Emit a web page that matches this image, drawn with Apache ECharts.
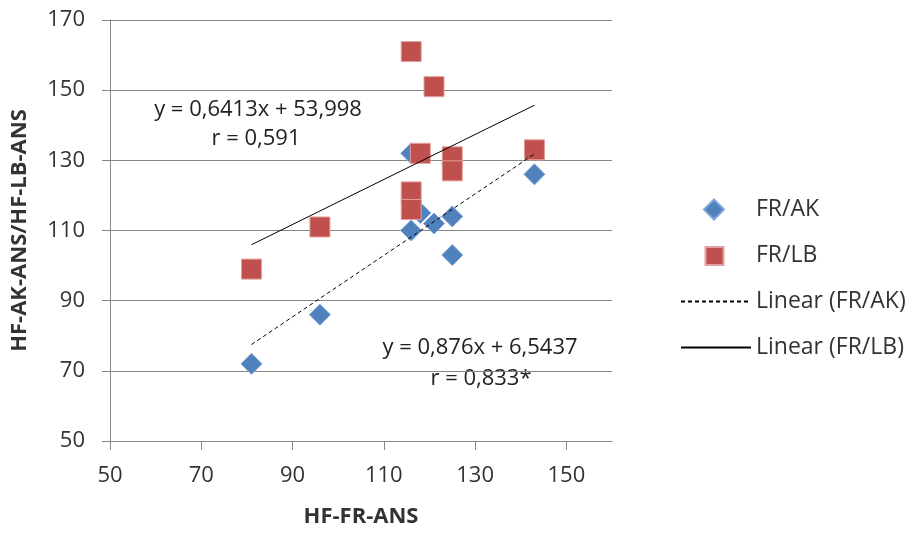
<!DOCTYPE html>
<html>
<head>
<meta charset="utf-8">
<script src="https://cdn.jsdelivr.net/npm/echarts@6/dist/echarts.min.js"></script>
<style>html,body{margin:0;padding:0;background:#fff}#c{width:907px;height:533px}</style>
</head>
<body>
<div id="c"></div>
<script>
// ---- data ----
const seriesNames = ['FR/AK', 'FR/LB', 'Linear (FR/AK)', 'Linear (FR/LB)'];
const akX = [81, 96, 116, 116, 118, 121, 125, 125, 143];
const akY = [72, 86, 110, 132, 115, 112, 114, 103, 126];
const lbX = [81, 96, 116, 121, 118, 116, 116, 125, 125, 143];
const lbY = [99, 111, 161, 151, 132, 121, 116, 131, 127, 133];
const akFit = { slope: 0.876, intercept: 6.5437 };
const lbFit = { slope: 0.6413, intercept: 53.998 };
const xTicks = [50, 70, 90, 110, 130, 150];
const yTicks = [50, 70, 90, 110, 130, 150, 170];
const akEq = ['y = 0,876x + 6,5437', 'r = 0,833*'];
const lbEq = ['y = 0,6413x + 53,998', 'r = 0,591'];
const xTitle = 'HF-FR-ANS';
const yTitle = 'HF-AK-ANS/HF-LB-ANS';

function pairs(xs, ys) { return xs.map((x, i) => [x, ys[i]]); }
function fitLine(xs, fit) {
  const x0 = Math.min(...xs), x1 = Math.max(...xs);
  return [[x0, fit.slope * x0 + fit.intercept], [x1, fit.slope * x1 + fit.intercept]];
}

const FONT = '"Open Sans", "Liberation Sans", sans-serif';
const axisGray = '#868686';
const textCol = '#333333';
const blue = '#4F81BD', red = '#C0504D';

// legend icons: invisible move-to points keep the 70x20 icon box, mark drawn inside it
const diamondIcon = 'path://M0,0M70,20M33,0L43,10L33,20L23,10Z';
const squareIcon = 'path://M0,0M70,20M24.5,1.5L42.5,1.5L42.5,19.5L24.5,19.5Z';

const chart = echarts.init(document.getElementById('c'), null, { renderer: 'canvas' });
chart.setOption({
  animation: false,
  backgroundColor: '#ffffff',
  grid: { left: 110, right: 295, top: 20, bottom: 90, containLabel: false },
  xAxis: {
    type: 'value', min: 50, max: 160, interval: 20,
    name: xTitle, nameLocation: 'middle', nameGap: 65,
    nameTextStyle: { fontFamily: FONT, fontWeight: 'bold', fontSize: 22, color: textCol },
    axisLine: { show: true, lineStyle: { color: axisGray, width: 1 } },
    axisTick: { show: true, length: 9, lineStyle: { color: axisGray }, customValues: xTicks },
    axisLabel: { fontFamily: FONT, fontSize: 22, color: textCol, margin: 24, customValues: xTicks },
    splitLine: { show: false }
  },
  yAxis: {
    type: 'value', min: 50, max: 170, interval: 20,
    name: yTitle, nameLocation: 'middle', nameGap: 79, nameRotate: 90,
    nameTextStyle: { fontFamily: FONT, fontWeight: 'bold', fontSize: 22, color: textCol },
    axisLine: { show: true, lineStyle: { color: axisGray, width: 1 } },
    axisTick: { show: true, length: 8, lineStyle: { color: axisGray }, customValues: yTicks },
    axisLabel: { fontFamily: FONT, fontSize: 22, color: textCol, margin: 25, customValues: yTicks },
    splitLine: { show: true, lineStyle: { color: axisGray, width: 1 } }
  },
  legend: {
    orient: 'vertical', left: 675, top: 193,
    itemWidth: 70, itemHeight: 21, itemGap: 23,
    textStyle: { fontFamily: FONT, fontSize: 23, color: textCol },
    data: [
      { name: seriesNames[0], icon: diamondIcon },
      { name: seriesNames[1], icon: squareIcon },
      { name: seriesNames[2], itemStyle: { color: 'rgba(0,0,0,0)', borderColor: 'rgba(0,0,0,0)', borderWidth: 0 } },
      { name: seriesNames[3], itemStyle: { color: 'rgba(0,0,0,0)', borderColor: 'rgba(0,0,0,0)', borderWidth: 0 } }
    ]
  },
  series: [
    {
      name: seriesNames[0], type: 'scatter', symbol: 'diamond', symbolSize: 21,
      itemStyle: { color: blue, borderColor: '#7fa6d6', borderWidth: 1, opacity: 1 },
      data: pairs(akX, akY), z: 2
    },
    {
      name: seriesNames[1], type: 'scatter', symbol: 'rect', symbolSize: 20,
      itemStyle: { color: red, borderColor: '#e0a09e', borderWidth: 1, opacity: 1 },
      data: pairs(lbX, lbY), z: 3
    },
    {
      name: seriesNames[2], type: 'line', symbol: 'none', silent: true,
      lineStyle: { color: '#000000', width: 1, type: [4, 3] },
      itemStyle: { color: '#000000' },
      data: fitLine(akX, akFit), z: 4
    },
    {
      name: seriesNames[3], type: 'line', symbol: 'none', silent: true,
      lineStyle: { color: '#000000', width: 1, type: 'solid' },
      itemStyle: { color: '#000000' },
      data: fitLine(lbX, lbFit), z: 4
    }
  ],
  graphic: [
    { type: 'text', x: 258, y: 110, style: { text: lbEq[0], fontFamily: FONT, fontSize: 22, fill: '#222', align: 'center', verticalAlign: 'middle' } },
    { type: 'text', x: 256, y: 139, style: { text: lbEq[1], fontFamily: FONT, fontSize: 22, fill: '#222', align: 'center', verticalAlign: 'middle' } },
    { type: 'text', x: 480, y: 348, style: { text: akEq[0], fontFamily: FONT, fontSize: 22, fill: '#222', align: 'center', verticalAlign: 'middle' } },
    { type: 'text', x: 481, y: 379, style: { text: akEq[1], fontFamily: FONT, fontSize: 22, fill: '#222', align: 'center', verticalAlign: 'middle' } }
  ]
});
</script>
</body>
</html>
